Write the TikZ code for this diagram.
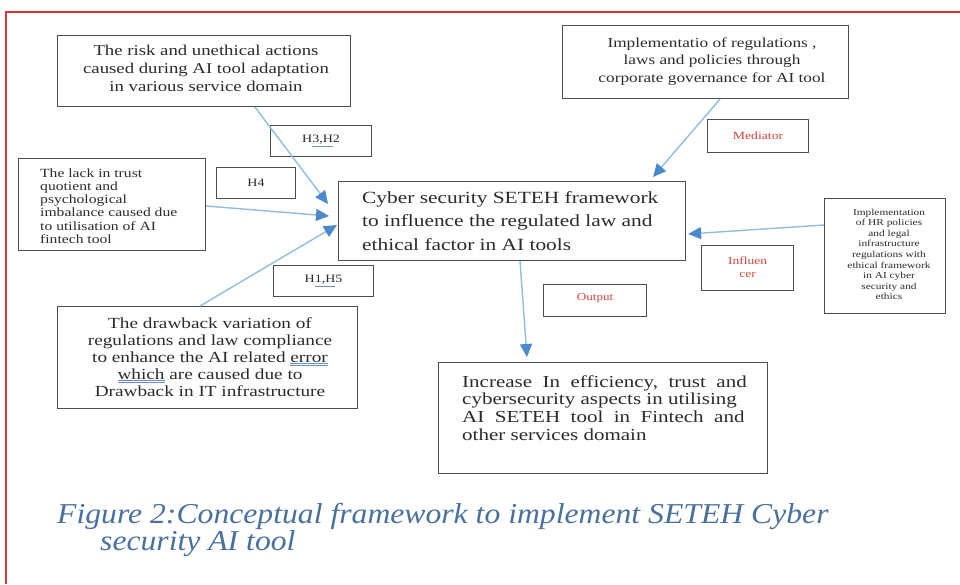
\documentclass[tikz,border=0pt]{standalone}
\usepackage{fontspec}
\setmainfont{Liberation Serif}[FakeStretch=1.25]
\newfontfamily\capfont{Liberation Serif}[FakeStretch=1.1]
\usetikzlibrary{arrows.meta,calc}

\definecolor{framered}{HTML}{D8343A}
\definecolor{boxline}{HTML}{4D4D4D}
\definecolor{txt}{HTML}{2B2B2B}
\definecolor{linkblue}{HTML}{8FBEE0}
\definecolor{tipblue}{HTML}{4A8ACB}
\definecolor{labred}{HTML}{D8453F}
\definecolor{capblue}{HTML}{4A719C}
\definecolor{gramblue}{HTML}{6E8FC0}

% double grammar underline
\newcommand{\gramul}[1]{{\color{gramblue}\underline{\underline{\color{txt}#1}}}}
% single spelling underline
\newcommand{\spellul}[1]{{\color{gramblue}\underline{\color{txt}#1}}}

\begin{document}
\begin{tikzpicture}[x=1pt,y=-1pt,
  box/.style={draw=boxline, line width=1.1pt, anchor=north west, inner sep=0pt},
  ptext/.style={inner sep=0pt, text=txt},
  lab/.style={inner sep=0pt, text=labred, align=center},
  hyp/.style={inner sep=0pt, text=txt},
  link/.style={draw=linkblue, line width=1.4pt,
    -{Triangle[length=13pt,width=12pt,color=tipblue]}}]

\useasboundingbox (0,0) rectangle (960,584);
\fill[white] (0,0) rectangle (960,584);
\draw[framered, line width=1.6pt] (6,584) -- (6,12) -- (960,12);

% boxes
\node[box, minimum width=293pt, minimum height=71pt]  (risk)     at (57,35)  {};
\node[box, minimum width=286pt, minimum height=73pt]  (impl)     at (562,25) {};
\node[box, minimum width=187pt, minimum height=92pt]  (lack)     at (18,158) {};
\node[box, minimum width=347pt, minimum height=79pt]  (central)  at (338,181) {};
\node[box, minimum width=121pt, minimum height=115pt] (hr)       at (824,198) {};
\node[box, minimum width=300pt, minimum height=102pt] (drawback) at (57,306) {};
\node[box, minimum width=329pt, minimum height=111pt] (outcome)  at (438,362) {};

% label boxes
\node[box, minimum width=101pt, minimum height=31pt] (labHa)  at (270,125) {};
\node[box, minimum width=79pt,  minimum height=31pt] (labHb)  at (216,167) {};
\node[box, minimum width=100pt, minimum height=31pt] (labHc)  at (273,265) {};
\node[box, minimum width=101pt, minimum height=33pt] (labMed) at (707,119) {};
\node[box, minimum width=92pt,  minimum height=45pt] (labInf) at (701,245) {};
\node[box, minimum width=103pt, minimum height=32pt] (labOut) at (543,284) {};

% box texts
\node[ptext, anchor=base] (riskT) at (206,55) {\parbox[t]{300pt}{\centering
  \fontsize{15}{18}\selectfont The risk and unethical actions\\caused during AI tool adaptation\\in various service domain}};
\node[ptext, anchor=base] (implT) at (712,47) {\parbox[t]{290pt}{\centering
  \fontsize{13.8}{17.5}\selectfont Implementatio of regulations ,\\laws and policies through\\corporate governance for AI tool}};
\node[ptext, anchor=base west] (lackT) at (40,177) {\parbox[t]{160pt}{\raggedright
  \fontsize{12.5}{13.3}\selectfont The lack in trust\\quotient and\\psychological\\imbalance caused due\\to utilisation of AI\\fintech tool}};
\node[ptext, anchor=base west] (centralT) at (362,203) {\parbox[t]{330pt}{\raggedright
  \fontsize{17.1}{23.5}\selectfont Cyber security SETEH framework\\to influence the regulated law and\\ethical factor in AI tools}};
\node[ptext, anchor=base] (hrT) at (889,215) {\parbox[t]{120pt}{\centering
  \fontsize{9.1}{10.6}\selectfont Implementation\\of HR policies\\and legal\\infrastructure\\regulations with\\ethical framework\\in AI cyber\\security and\\ethics}};
\node[ptext, anchor=base] (drawbackT) at (210,328) {\parbox[t]{300pt}{\centering
  \fontsize{15.4}{17}\selectfont The drawback variation of\\regulations and law compliance\\to enhance the AI related \gramul{error}\\\gramul{which} are caused due to\\Drawback in IT infrastructure}};
\node[ptext, anchor=base west] (outcomeT) at (462,387) {\parbox[t]{310pt}{\raggedright
  \fontsize{16.8}{17.7}\selectfont Increase\ \ In\ \ efficiency,\ \ trust\ \ and\\cybersecurity aspects in utilising\\AI\ \ SETEH\ \ tool\ \ in\ \ Fintech\ \ and\\other services domain}};

% label texts
\node[hyp, font=\fontsize{11.2}{13}\selectfont] (labHaT)  at (labHa)  {H\spellul{3,H}2};
\node[hyp, font=\fontsize{11.2}{13}\selectfont] (labHbT)  at (labHb)  {H4};
\node[hyp, font=\fontsize{11.2}{13}\selectfont] (labHcT)  at (labHc)  {H\spellul{1,H}5};
\node[lab, font=\fontsize{11}{13}\selectfont]   (labMedT) at (labMed) {Mediator};
\node[lab, font=\fontsize{10.8}{13}\selectfont] (labInfT) at ($(labInf)+(0,-1)$) {Influen\\cer};
\node[lab, font=\fontsize{10.5}{13}\selectfont] (labOutT) at ($(labOut)+(0,-2)$) {Output};

% connectors
\draw[link] ($(risk.south west)+(198,0)$) -- ($(central.north west)+(-10,23)$);
\draw[link] ($(lack.north east)+(0,48)$) -- ($(central.north west)+(-9,35)$);
\draw[link] ($(drawback.north west)+(143,0)$) -- ($(central.north west)+(-1,44)$);
\draw[link] ($(impl.south west)+(158,0)$) -- ($(central.north west)+(315,-4)$);
\draw[link] ($(hr.north west)+(0,27)$) -- ($(central.north east)+(2,53)$);
\draw[link] ($(central.south west)+(182,0)$) -- ($(outcome.north west)+(89,-5)$);

% caption
\node[inner sep=0pt, anchor=base west, text=capblue, font=\capfont\itshape\fontsize{28.8}{30}\selectfont]
  (capA) at (57,523) {Figure 2:Conceptual framework to implement SETEH Cyber};
\node[inner sep=0pt, anchor=base west, text=capblue, font=\capfont\itshape\fontsize{28.8}{30}\selectfont]
  (capB) at (100,550) {security AI tool};
\end{tikzpicture}
\end{document}
